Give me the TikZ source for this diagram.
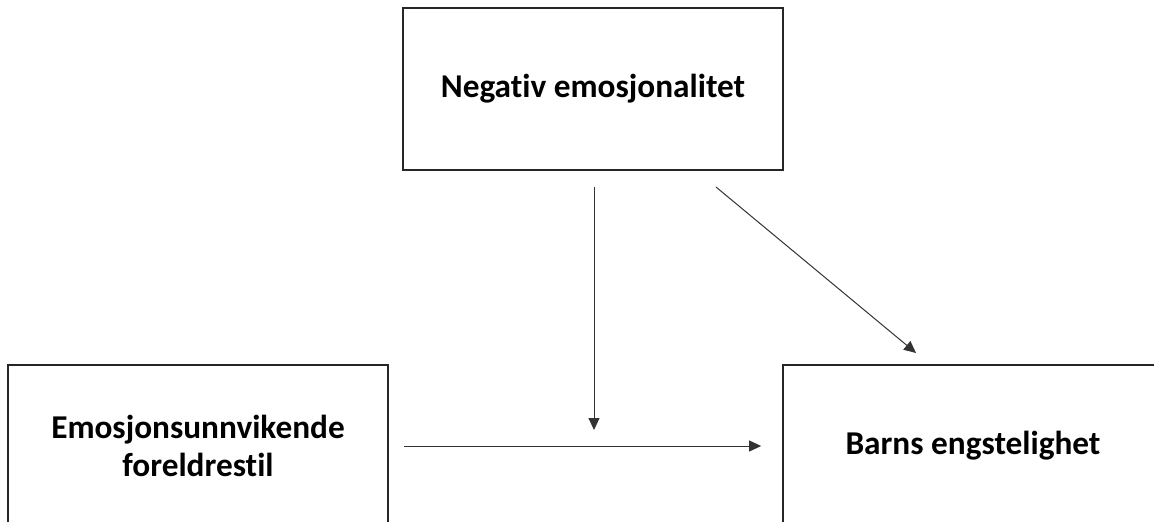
\documentclass[tikz,border=0pt]{standalone}
\usepackage{fontspec}
\setmainfont{Carlito}[Ligatures=NoCommon]
\usetikzlibrary{arrows.meta,calc}
\begin{document}
\begin{tikzpicture}[x=1pt,y=-1pt,
  box/.style={draw=black!85,line width=1.8pt,minimum width=380pt,minimum height=162pt,inner sep=0pt,align=center,font=\fontsize{33.3}{38}\selectfont\bfseries},
  conn/.style={draw=black!80,line width=1pt,-{Triangle[length=12pt,width=11pt]}}]
\useasboundingbox (0,0) rectangle (1154,522);
\clip (0,0) rectangle (1154,522);
\node[box] (neg) at (593,89) {Negativ emosjonalitet};
\node[box] (emo) at (198,446) {Emosjonsunnvikende\\foreldrestil};
\node[box] (barn) at (973,446) {Barns engstelighet};
\coordinate (mod) at (594,447);
\coordinate (d1) at (695.5,170);
\coordinate (d2) at (930.5,365);
\draw[conn, shorten <=15pt, shorten >=21pt] (emo.east) -- (barn.west);
\draw[conn, shorten <=16pt, shorten >=17pt] (neg.south -| mod) -- (mod);
\draw[conn, shorten <=26.6pt, shorten >=18.8pt] (d1) -- (d2);
\end{tikzpicture}
\end{document}
